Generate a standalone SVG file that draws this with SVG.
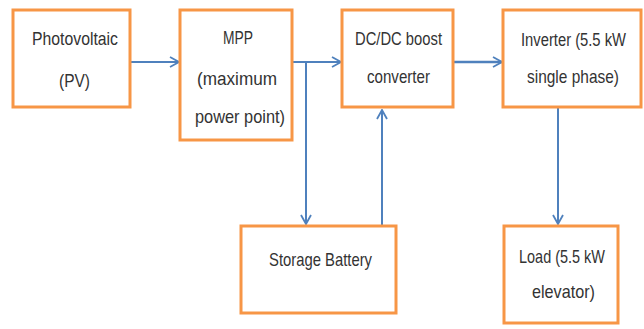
<svg xmlns="http://www.w3.org/2000/svg" width="644" height="329" viewBox="0 0 644 329">
<style>
.box{fill:#fff;stroke:#F79646;stroke-width:3}
.t{font-family:"Liberation Sans",Arial,sans-serif;font-size:19px;fill:#333;text-anchor:middle}
.c{fill:none;stroke:#4F81BD;stroke-width:2}
</style>
<defs>
<marker id="ah" viewBox="0 0 12 12" refX="11" refY="6" markerWidth="12" markerHeight="12" markerUnits="userSpaceOnUse" orient="auto">
<polyline points="2,1 11,6 2,11" fill="none" stroke="#4F81BD" stroke-width="1.8"/>
</marker>
</defs>
<rect width="644" height="329" fill="#fff"/>
<g id="connectors">
<line class="c" x1="130" y1="62" x2="179" y2="62" marker-end="url(#ah)"/>
<line class="c" x1="292" y1="62" x2="341" y2="62" marker-end="url(#ah)"/>
<line class="c" x1="306" y1="62" x2="306" y2="224" marker-end="url(#ah)"/>
<line class="c" x1="382" y1="226" x2="382" y2="110" marker-end="url(#ah)"/>
<line class="c" x1="454" y1="62" x2="502" y2="62" marker-end="url(#ah)" style="stroke-width:2.5"/>
<line class="c" x1="558" y1="108" x2="558" y2="224" marker-end="url(#ah)"/>
</g>
<g id="pv"><rect class="box" x="13" y="10" width="117" height="97"/>
<text class="t" x="75" y="45" textLength="86" lengthAdjust="spacingAndGlyphs">Photovoltaic</text><text class="t" x="74.5" y="87" textLength="31" lengthAdjust="spacingAndGlyphs">(PV)</text></g>
<g id="mpp"><rect class="box" x="180" y="10" width="112" height="130"/>
<text class="t" x="238" y="44" textLength="30" lengthAdjust="spacingAndGlyphs">MPP</text><text class="t" x="237" y="85" textLength="80" lengthAdjust="spacingAndGlyphs">(maximum</text><text class="t" x="240" y="123" textLength="90" lengthAdjust="spacingAndGlyphs">power point)</text></g>
<g id="dcdc"><rect class="box" x="342" y="10" width="111" height="97"/>
<text class="t" x="398.5" y="45" textLength="87" lengthAdjust="spacingAndGlyphs">DC/DC boost</text><text class="t" x="398.5" y="83" textLength="63" lengthAdjust="spacingAndGlyphs">converter</text></g>
<g id="inverter"><rect class="box" x="503" y="10" width="138" height="97"/>
<text class="t" x="573.5" y="46" textLength="105" lengthAdjust="spacingAndGlyphs" style="font-size:17.5px">Inverter (5.5 kW</text><text class="t" x="573" y="83" textLength="92" lengthAdjust="spacingAndGlyphs">single phase)</text></g>
<g id="battery"><rect class="box" x="241" y="226" width="155" height="87"/>
<text class="t" x="320.5" y="266" textLength="103" lengthAdjust="spacingAndGlyphs">Storage Battery</text></g>
<g id="load"><rect class="box" x="504" y="226" width="114" height="97"/>
<text class="t" x="562" y="263" textLength="86" lengthAdjust="spacingAndGlyphs">Load (5.5 kW</text><text class="t" x="563.5" y="298" textLength="63" lengthAdjust="spacingAndGlyphs">elevator)</text></g>
</svg>
